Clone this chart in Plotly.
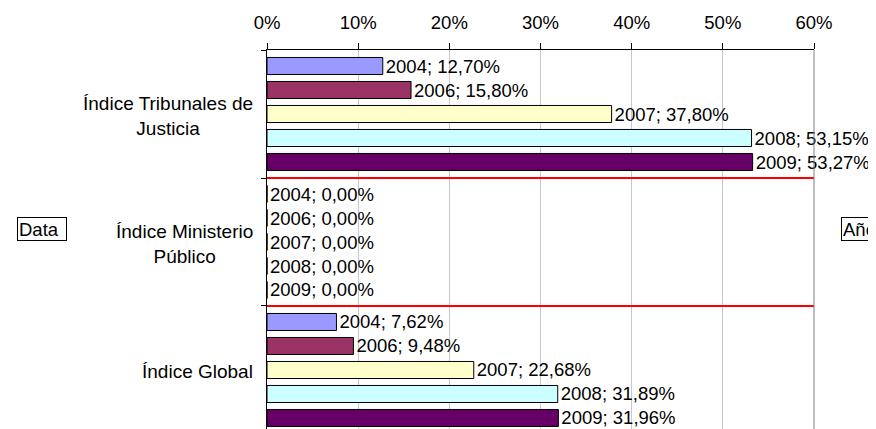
import plotly.graph_objects as go

categories = ["Índice Tribunales de<br>Justicia", "Índice Ministerio<br>Público", "Índice Global"]
years = ["2004", "2006", "2007", "2008", "2009"]
values_2004 = [12.70, 0.00, 7.62]
values_2006 = [15.80, 0.00, 9.48]
values_2007 = [37.80, 0.00, 22.68]
values_2008 = [53.15, 0.00, 31.89]
values_2009 = [53.27, 0.00, 31.96]
series = [values_2004, values_2006, values_2007, values_2008, values_2009]
colors = ["#9999FF", "#993366", "#FFFFCC", "#CCFFFF", "#660066"]
x_ticks = [0, 10, 20, 30, 40, 50, 60]
x_tick_labels = [f"{v}%" for v in x_ticks]

FONT = "Liberation Sans, Arial, sans-serif"
fs = 18.5

fig = go.Figure()
for yr, vals, col in zip(years, series, colors):
    fig.add_trace(go.Bar(
        y=categories, x=vals, orientation="h", name=yr, meta=yr,
        marker=dict(color=col, line=dict(color="black", width=1)),
        texttemplate="%{meta}; %{x:.2f}%", textposition="outside",
        constraintext="none",
        textfont=dict(family=FONT, size=fs, color="black"),
        cliponaxis=False, hoverinfo="skip",
    ))

OFF = 8  # page body margin
W, H = 876 - OFF, 429 - OFF
L, R, T = 267 - OFF, 814 - OFF, 50 - OFF
pw = R - L
ph = H - T

fig.update_layout(
    width=W, height=H,
    margin=dict(l=L, r=W - R, t=T, b=0, pad=0),
    paper_bgcolor="white", plot_bgcolor="white",
    barmode="group", bargap=0.0625, bargroupgap=0.29,
    showlegend=False, separators=",.",
    font=dict(family=FONT, size=fs, color="black"),
    xaxis=dict(
        side="top", range=[0, 60], tickvals=x_ticks, ticktext=x_tick_labels,
        showgrid=True, gridcolor="#c8c8c8", gridwidth=1,
        showline=True, linecolor="black", linewidth=1,
        ticks="outside", ticklen=6, tickcolor="black",
        ticklabelstandoff=7, zeroline=False,
        tickfont=dict(family=FONT, size=fs, color="black"),
    ),
    yaxis=dict(
        type="category", categoryorder="array", categoryarray=categories,
        range=[2.461, -0.5], tickson="boundaries", showticklabels=False,
        ticks="outside", ticklen=5, tickcolor="black",
        showgrid=False, showline=True, linecolor="black", linewidth=1,
        zeroline=False,
    ),
)

# red separators between categories
for b in [0.5, 1.5]:
    fig.add_shape(type="line", xref="paper", yref="y", x0=0, x1=1, y0=b, y1=b,
                  line=dict(color="#FF0000", width=2))
# right frame line
fig.add_shape(type="line", xref="paper", yref="paper", x0=1, x1=1, y0=0, y1=1,
              line=dict(color="#808080", width=1))

def px_x(page_x):
    return (page_x - OFF - L) / pw

def px_y(page_y):
    return 1 - (page_y - OFF - T) / ph

# category labels (centered multi-line)
for i, c in enumerate(categories):
    fig.add_annotation(text=c, xref="paper", yref="y", x=px_x(255), y=i + 0.015,
                       xanchor="right", yanchor="middle", align="center",
                       showarrow=False, font=dict(family=FONT, size=19, color="black"))

# field buttons
fig.add_annotation(text="Data", xref="paper", yref="paper", x=px_x(17),
                   y=px_y(229), xanchor="left", yanchor="middle",
                   width=46, height=20, align="left",
                   showarrow=False, bordercolor="black", borderwidth=1, borderpad=1,
                   font=dict(family=FONT, size=fs, color="black"))
fig.add_annotation(text="Año", xref="paper", yref="paper", x=px_x(841),
                   y=px_y(229), xanchor="left", yanchor="middle",
                   height=20, align="left",
                   showarrow=False, bordercolor="black", borderwidth=1, borderpad=1,
                   font=dict(family=FONT, size=fs, color="black"))

fig.write_html("out.html")
